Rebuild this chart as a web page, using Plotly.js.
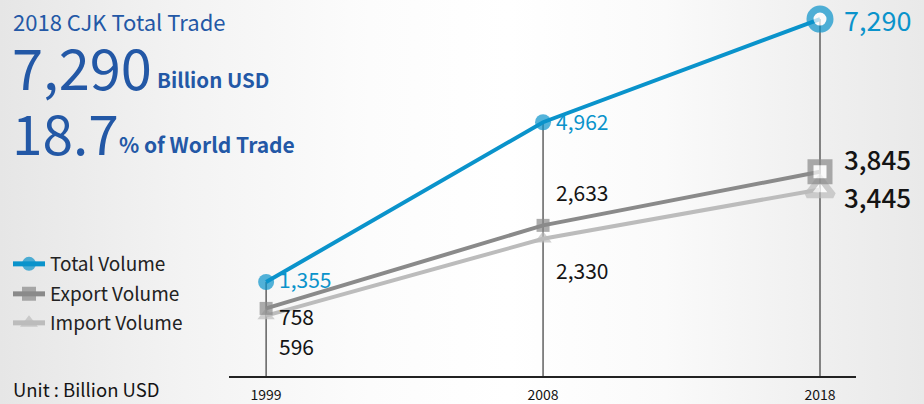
<!DOCTYPE html>
<html>
<head>
<meta charset="utf-8">
<script src="https://cdn.plot.ly/plotly-3.0.1.min.js"></script>
<style>
  html, body { margin: 0; padding: 0; }
  body {
    width: 924px; height: 404px; overflow: hidden;
    background: linear-gradient(to right, #e6e6e6 0%, #f3f3f3 20%, #fcfcfc 40%, #ffffff 55%, #fafafa 72%, #f0f0f0 88%, #e9e9e9 100%);
  }
  #chart { width: 924px; height: 404px; }
</style>
</head>
<body>
<div id="chart"></div>
<script>
// ---- data ----
const years = ['1999', '2008', '2018'];
const totalVolume = [1355, 4962, 7290];
const exportVolume = [758, 2633, 3845];
const importVolume = [596, 2330, 3445];
const seriesNames = ['Total Volume', 'Export Volume', 'Import Volume'];
const headlineTotal = '7,290';
const headlineShare = '18.7';

// ---- style ----
const FONT = 'Noto Sans CJK KR, Noto Sans, sans-serif';
const BLUE = '#0a93cb';
const GRAY = '#8a8a8a';
const LIGHT = '#bcbcbc';
const HEAD = '#2358a6';
const INK = '#141414';

const W = 924, H = 404;
const M = { l: 229, r: 68, t: 10, b: 28 };
const PW = W - M.l - M.r, PH = H - M.t - M.b;
const yRange = [-768, 7496];
const px = v => (v - M.l) / PW;
const py = v => (H - M.b - v) / PH;
const cy = v => 1 - v / H;

const fmt = v => v.toLocaleString('en-US');

function series(name, vals, color, symbol, sizes, ringW, rank, legendId) {
  return {
    type: 'scatter', mode: 'lines+markers', name: name,
    x: years, y: vals, legendrank: rank, cliponaxis: false, legend: legendId,
    line: { color: color, width: 4 },
    marker: {
      symbol: symbol, size: sizes,
      color: [color, color, '#ffffff'],
      line: { color: color, width: [0, 0, ringW] }
    },
    hoverinfo: 'x+y+name'
  };
}

const traces = [
  series(seriesNames[2], importVolume, LIGHT, 'triangle-up', [15, 15, 23], 6, 3, 'legend3'),
  series(seriesNames[1], exportVolume, GRAY, 'square', [13, 13, 19], 6, 2, 'legend2'),
  series(seriesNames[0], totalVolume, BLUE, 'circle', [16, 16, 20], 7, 1, 'legend')
];

// vertical guide lines from axis to the top (total) value of each year
const shapes = years.map((yr, i) => ({
  type: 'line', xref: 'x', yref: 'y', layer: 'below',
  x0: i, x1: i, y0: yRange[0], y1: totalVolume[i],
  line: { color: '#3a3a3a', width: 1.2 }
}));

// value labels (offsets in pixels, relative to each point)
const labelCfg = [
  { vals: totalVolume, color: BLUE, dx: [11, 11, 22], dy: [3, 1, 0], size: [21, 21, 27], weight: [400, 400, 400] },
  { vals: exportVolume, color: INK, dx: [11, 11, 22], dy: [-8, 33, 13], size: [21, 21, 26], weight: [400, 400, 500] },
  { vals: importVolume, color: INK, dx: [11, 11, 22], dy: [-30, -31, -7], size: [21, 21, 26], weight: [400, 400, 500] }
];
const annotations = [];
labelCfg.forEach(c => {
  c.vals.forEach((v, i) => {
    annotations.push({
      xref: 'x', yref: 'y', x: i, y: v, text: fmt(v), showarrow: false,
      xanchor: 'left', yanchor: 'middle', xshift: c.dx[i], yshift: c.dy[i],
      font: { family: FONT, size: c.size[i], color: c.color, weight: c.weight[i] }
    });
  });
});

// headline text (big numbers use a tight box so they do not crowd the lines around them)
annotations.push(
  { xref: 'paper', yref: 'paper', x: px(11), y: py(21), xanchor: 'left', yanchor: 'middle', showarrow: false,
    text: '2018 CJK Total Trade', font: { family: FONT, size: 22, color: HEAD, weight: 400 } },
  { xref: 'paper', yref: 'paper', x: px(10), y: py(77), xanchor: 'left', yanchor: 'middle', showarrow: false,
    height: 58, valign: 'bottom',
    text: headlineTotal, font: { family: FONT, size: 56, color: HEAD, weight: 400 } },
  { xref: 'paper', yref: 'paper', x: px(155), y: py(79), xanchor: 'left', yanchor: 'middle', showarrow: false,
    text: 'Billion USD', font: { family: FONT, size: 20.5, color: HEAD, weight: 'bold' } },
  { xref: 'paper', yref: 'paper', x: px(10), y: py(143), xanchor: 'left', yanchor: 'middle', showarrow: false,
    height: 57, valign: 'bottom',
    text: headlineShare, font: { family: FONT, size: 55, color: HEAD, weight: 400 } },
  { xref: 'paper', yref: 'paper', x: px(117), y: py(144), xanchor: 'left', yanchor: 'middle', showarrow: false,
    text: '% of World Trade', font: { family: FONT, size: 21, color: HEAD, weight: 'bold' } },
  { xref: 'paper', yref: 'paper', x: px(11), y: py(389), xanchor: 'left', yanchor: 'middle', showarrow: false,
    text: 'Unit : Billion USD', font: { family: FONT, size: 18.5, color: INK } }
);

function legendAt(yPix) {
  return {
    xref: 'container', yref: 'container', x: 8 / W, y: cy(yPix), xanchor: 'left', yanchor: 'middle',
    bgcolor: 'rgba(0,0,0,0)', borderwidth: 0, itemsizing: 'constant', itemwidth: 32,
    font: { family: FONT, size: 19, color: '#222' }
  };
}

const layout = {
  width: W, height: H, margin: M,
  paper_bgcolor: 'rgba(0,0,0,0)', plot_bgcolor: 'rgba(0,0,0,0)',
  font: { family: FONT, color: INK },
  showlegend: true,
  legend: legendAt(264),
  legend2: legendAt(294),
  legend3: legendAt(323),
  xaxis: {
    type: 'category', range: [-0.134, 2.13], fixedrange: true,
    showgrid: false, zeroline: false, showline: true, linecolor: '#222', linewidth: 1.5,
    ticks: '', ticklabelstandoff: 6, tickfont: { family: FONT, size: 14, color: INK }
  },
  yaxis: {
    range: yRange, visible: false, fixedrange: true, showgrid: false, zeroline: false
  },
  shapes: shapes,
  annotations: annotations
};

Plotly.newPlot('chart', traces, layout, { displayModeBar: false, staticPlot: true });
</script>
</body>
</html>
